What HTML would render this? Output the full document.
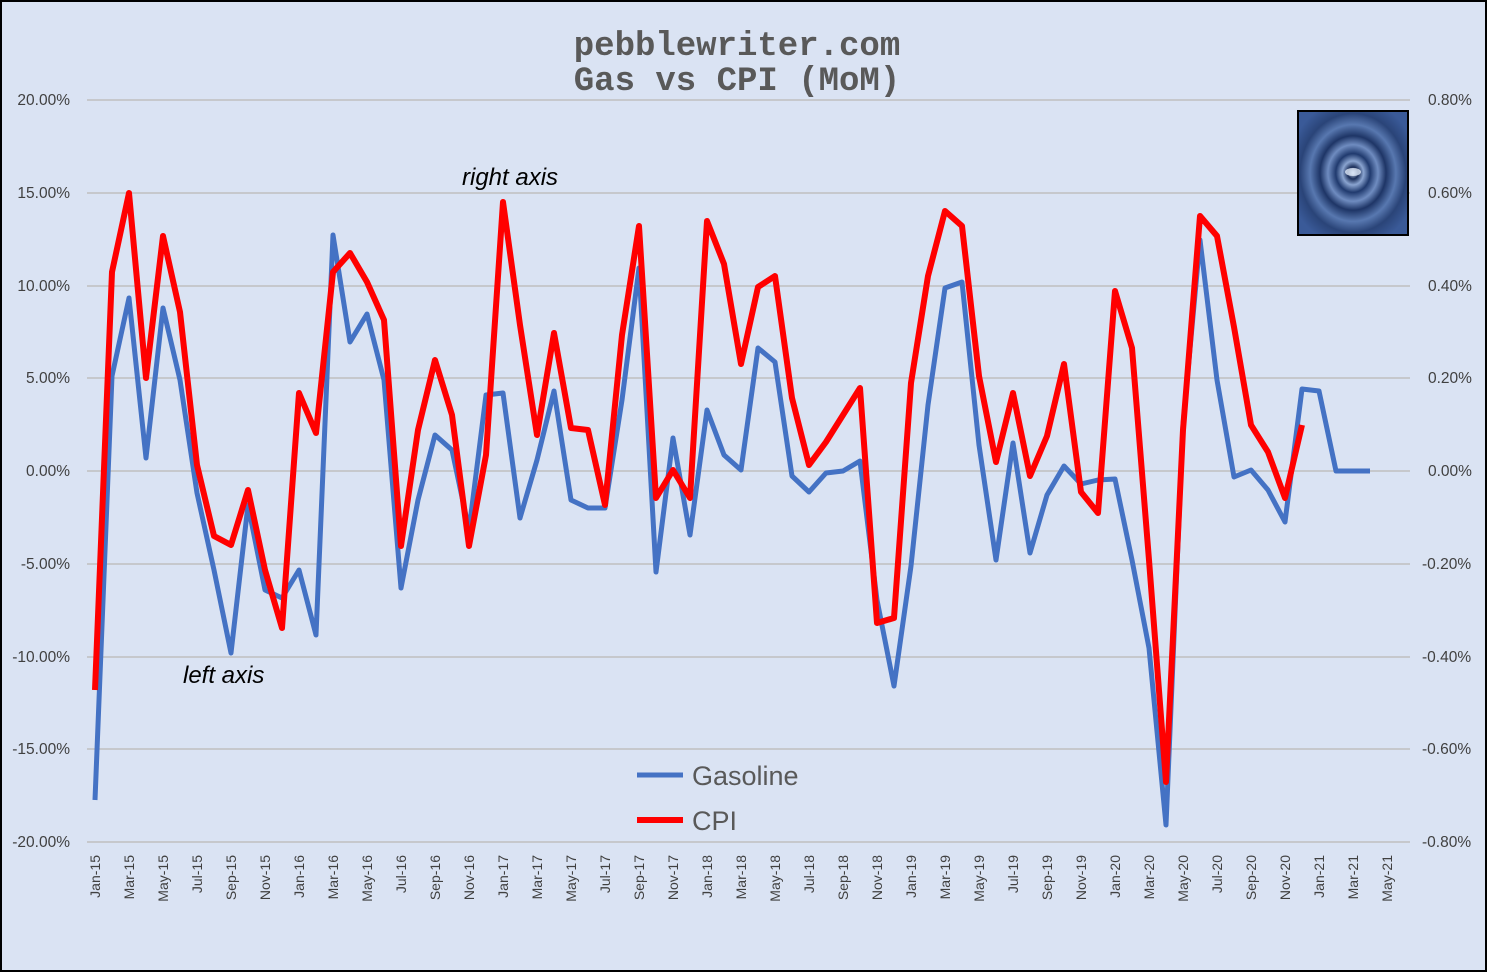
<!DOCTYPE html>
<html><head><meta charset="utf-8"><style>
body{margin:0;background:#fff}
</style></head><body>
<svg width="1487" height="972" xmlns="http://www.w3.org/2000/svg" font-family="Liberation Sans, sans-serif">
<defs>
<radialGradient id="rip" cx="50%" cy="50%" r="60%">
<stop offset="0" stop-color="#c8d8f0"/>
<stop offset="0.08" stop-color="#1c2f5a"/>
<stop offset="0.16" stop-color="#8aa4d0"/>
<stop offset="0.26" stop-color="#203a6e"/>
<stop offset="0.38" stop-color="#6f8cc0"/>
<stop offset="0.5" stop-color="#1e3566"/>
<stop offset="0.65" stop-color="#5878b0"/>
<stop offset="0.8" stop-color="#2a4478"/>
<stop offset="1" stop-color="#3a5a98"/>
</radialGradient>
</defs>
<rect x="1" y="1" width="1485" height="970" fill="#dae3f3" stroke="#000" stroke-width="2"/>
<text x="737" y="55" font-family="Liberation Mono, monospace" font-size="34" font-weight="bold" fill="#595959" text-anchor="middle">pebblewriter.com</text>
<text x="737" y="90" font-family="Liberation Mono, monospace" font-size="34" font-weight="bold" fill="#595959" text-anchor="middle">Gas vs CPI (MoM)</text>
<g stroke="#bfbfbf" stroke-width="1.5">
<line x1="87" x2="1410" y1="100" y2="100"/><line x1="87" x2="1410" y1="193" y2="193"/>
<line x1="87" x2="1410" y1="286" y2="286"/><line x1="87" x2="1410" y1="378" y2="378"/>
<line x1="87" x2="1410" y1="471" y2="471"/><line x1="87" x2="1410" y1="564" y2="564"/>
<line x1="87" x2="1410" y1="657" y2="657"/><line x1="87" x2="1410" y1="749" y2="749"/>
<line x1="87" x2="1410" y1="842" y2="842"/>
</g>
<g font-size="15.5" fill="#404040" text-anchor="end">
<text x="70" y="105">20.00%</text><text x="70" y="198">15.00%</text><text x="70" y="291">10.00%</text>
<text x="70" y="383">5.00%</text><text x="70" y="476">0.00%</text><text x="70" y="569">-5.00%</text>
<text x="70" y="662">-10.00%</text><text x="70" y="754">-15.00%</text><text x="70" y="847">-20.00%</text>
</g>
<g font-size="15.5" fill="#404040">
<text x="1428" y="105">0.80%</text><text x="1428" y="198">0.60%</text><text x="1428" y="291">0.40%</text>
<text x="1428" y="383">0.20%</text><text x="1428" y="476">0.00%</text><text x="1422" y="569">-0.20%</text>
<text x="1422" y="662">-0.40%</text><text x="1422" y="754">-0.60%</text><text x="1422" y="847">-0.80%</text>
</g>
<g id="xl" font-size="14" fill="#404040" text-anchor="end"></g>
<rect x="1298" y="111" width="110" height="124" fill="url(#rip)" stroke="#000" stroke-width="2"/>
<ellipse cx="1353" cy="172" rx="8" ry="4" fill="#dfe8f8" opacity="0.8"/>
<polyline id="gas" fill="none" stroke="#4472c4" stroke-width="5" stroke-linejoin="round"/>
<polyline id="cpi" fill="none" stroke="#ff0000" stroke-width="6" stroke-linejoin="round"/>
<text x="462" y="185" font-size="24" font-style="italic" fill="#000">right axis</text>
<text x="183" y="683" font-size="24" font-style="italic" fill="#000">left axis</text>
<line x1="637" x2="683" y1="775" y2="775" stroke="#4472c4" stroke-width="5"/>
<text x="692" y="785" font-size="27" fill="#595959">Gasoline</text>
<line x1="637" x2="683" y1="820" y2="820" stroke="#ff0000" stroke-width="6"/>
<text x="692" y="830" font-size="27" fill="#595959">CPI</text>
</svg>
<script>
var g=[800,376,298,458,308,380,493,570,653,505,590,598,570,635,235,342,314,380,588,500,435,450,530,395,393,518,460,391,500,508,508,400,268,572,438,535,410,455,470,348,362,476,492,473,471,461,600,686,566,405,288,282,445,560,443,553,495,466,484,480,479,560,648,825,425,240,380,477,470,490,522,389,391,471,471,471];
var c=[690,272,193,378,236,312,465,536,545,490,570,628,393,433,272,253,282,320,546,430,360,415,546,455,202,325,435,333,428,430,505,335,226,498,470,498,221,264,364,287,276,398,465,442,415,388,623,618,383,276,211,226,376,462,393,476,436,364,492,513,291,348,560,782,430,216,236,327,425,452,498,425];
function pts(a){return a.map(function(y,i){return (95+17*i)+","+y}).join(" ")}
document.getElementById("gas").setAttribute("points",pts(g));
document.getElementById("cpi").setAttribute("points",pts(c));
var m=["Jan","Mar","May","Jul","Sep","Nov"],xl=document.getElementById("xl"),s="";
for(var i=0;i<=76;i+=2){var yr=15+Math.floor(i/12),mo=m[(i%12)/2];var x=95+17*i+5;
s+='<text transform="translate('+x+',855) rotate(-90)">'+mo+'-'+yr+'</text>';}
xl.innerHTML=s;
</script>
</body></html>
